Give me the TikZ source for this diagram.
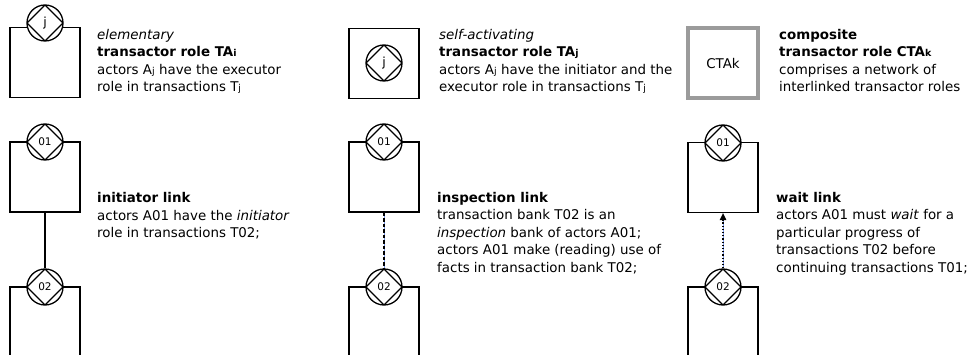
\documentclass[tikz,border=0pt]{standalone}
\usepackage{fontspec}
\setmainfont{DejaVu Sans}
\usetikzlibrary{arrows.meta}
\newcommand\lowidx[1]{{\fontsize{9.5}{9.5}\selectfont #1}}
\definecolor{linkblue}{RGB}{120,150,230}
\definecolor{ctagray}{RGB}{155,155,155}
\tikzset{
  role/.style={draw, line width=1.3pt, minimum width=70pt, minimum height=70pt, inner sep=0pt},
  ctarole/.style={draw=ctagray, line width=4pt, minimum width=70pt, minimum height=70pt, inner sep=0pt,
    font=\fontsize{13.4}{15}\selectfont},
  tsym/.style={circle, draw, fill=white, line width=1.3pt, minimum size=36pt, inner sep=0pt,
    font=\fontsize{10.5}{12}\selectfont,
    path picture={\draw[line width=1.3pt] (path picture bounding box.north) -- (path picture bounding box.east)
      -- (path picture bounding box.south) -- (path picture bounding box.west) -- cycle;}},
  % anchored at the baseline of the last line
  desc/.style={anchor=base west, align=left, inner sep=0pt, font=\fontsize{13.4}{17.5}\selectfont},
  plainlink/.style={line width=1.3pt},
  underlay/.style={draw=linkblue, line width=0.8pt},
}
\begin{document}
\begin{tikzpicture}[x=1pt, y=-1pt]
\useasboundingbox (0,0) rectangle (970,355);

% elementary transactor role
\node[role] (ra) at (45,62.5) {};
\node[tsym, font=\rmfamily\fontsize{12.5}{12}\selectfont] (ta) at (45,23) {j};
\node[desc] (da) at (97,92) {\textit{elementary}\\\textbf{transactor role TA\lowidx{i}}\\
  actors A\lowidx{j} have the executor\\role in transactions T\lowidx{j}};

% self-activating transactor role
\node[role] (rb) at (384,63.5) {};
\node[tsym, font=\rmfamily\fontsize{12.5}{12}\selectfont] (tb) at (384,63) {j};
\node[desc] (db) at (439,92) {\textit{self-activating}\\\textbf{transactor role TA\lowidx{j}}\\
  actors A\lowidx{j} have the initiator and the\\executor role in transactions T\lowidx{j}};

% composite transactor role
\node[ctarole] (rc) at (723,63.5) {CTAk};
\node[desc] (dc) at (779,92) {\textbf{composite}\\\textbf{transactor role CTA\lowidx{k}}\\
  comprises a network of\\interlinked transactor roles};

% initiator link
\node[role] (rd1) at (45,177) {};
\node[tsym] (td1) at (45,142) {01};
\node[role] (rd2) at (45,322) {};
\node[tsym] (td2) at (45,287) {02};
\draw[plainlink] (rd1.south) -- (td2.north);
\node[desc] (dd) at (97,238) {\textbf{initiator link}\\
  actors A01 have the \textit{initiator}\\role in transactions T02;};

% inspection link
\node[role] (re1) at (384,177) {};
\node[tsym] (te1) at (384,142) {01};
\node[role] (re2) at (384,322) {};
\node[tsym] (te2) at (384,287) {02};
\draw[underlay] (re1.south) -- (te2.north);
\draw[plainlink, dash pattern=on 3.5pt off 2pt] (re1.south) -- (te2.north);
\node[desc] (de) at (437,272.5) {\textbf{inspection link}\\
  transaction bank T02 is an\\\textit{inspection} bank of actors A01;\\
  actors A01 make (reading) use of\\facts in transaction bank T02;};

% wait link
\node[role] (rf1) at (723,177.5) {};
\node[tsym] (tf1) at (723,143) {01};
\node[role] (rf2) at (723,322) {};
\node[tsym] (tf2) at (723,287) {02};
\draw[underlay] (tf2.north) -- ([yshift=-7pt]rf1.south);
\draw[line width=1.3pt, dash pattern=on 1.2pt off 2pt, -{Triangle[length=7pt,width=6.5pt]}]
  (tf2.north) -- (rf1.south);
\node[desc] (df) at (776,272.5) {\textbf{wait link}\\
  actors A01 must \textit{wait} for a\\particular progress of\\
  transactions T02 before\\continuing transactions T01;};
\end{tikzpicture}
\end{document}
